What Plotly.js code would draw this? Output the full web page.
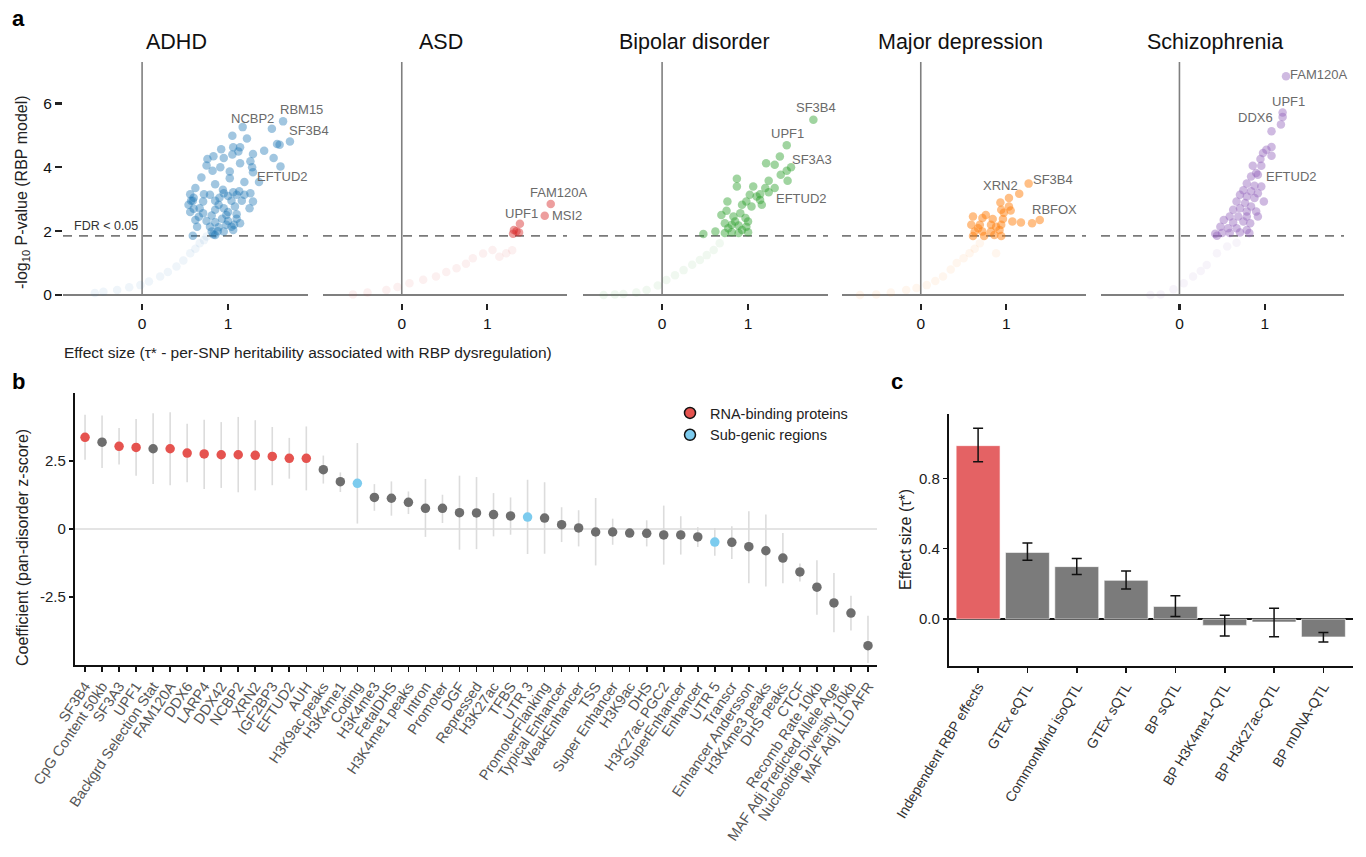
<!DOCTYPE html>
<html><head><meta charset="utf-8">
<script src="https://cdn.plot.ly/plotly-3.0.1.min.js"></script>
<style>html,body{margin:0;padding:0;background:#fff}#chart{width:1366px;height:857px}</style>
</head><body><div id="chart"></div>
<script>
// ---------- Panel a data ----------
const diseases = ['ADHD','ASD','Bipolar disorder','Major depression','Schizophrenia'];

const adhdSigX = [1.64,1.17,1.51,1.05,1.22,1.72,1.57,1.60,1.06,1.14,0.92,1.12,1.42,0.83,0.95,1.05,1.29,1.53,0.76,0.75,0.91,1.14,1.26,1.61,0.82,1.02,1.28,1.29,1.02,1.19,0.69,0.85,1.36,0.56,0.62,0.72,0.79,0.94,0.95,1.06,1.10,1.19,1.26,1.29,0.59,0.71,0.85,0.89,1.04,1.16,0.54,0.67,0.85,0.95,1.08,1.25,0.56,0.71,0.81,0.98,1.10,0.62,0.75,0.85,1.00,1.10,0.79,0.89,1.04,1.14,0.59,0.81,0.85,0.95,1.06,0.64,0.93,0.60,0.66,0.88,0.98,1.00,0.57,0.90,1.00,1.13,1.07,0.83,0.60];
const adhdSigY = [5.44,5.26,5.21,4.99,4.90,4.81,4.73,4.71,4.63,4.63,4.57,4.50,4.52,4.35,4.29,4.40,4.42,4.29,4.26,4.06,4.00,4.13,4.19,4.03,3.89,3.87,4.00,3.85,3.66,3.54,3.68,3.47,3.54,3.16,3.35,3.16,3.14,3.30,3.19,3.22,3.14,3.14,3.19,2.93,2.95,2.93,2.95,2.83,2.95,2.95,2.83,2.72,2.67,2.72,2.77,2.72,2.60,2.56,2.49,2.51,2.53,2.35,2.32,2.28,2.32,2.39,2.14,2.12,2.14,2.25,1.86,1.99,1.88,1.99,2.04,2.14,2.39,2.70,2.45,2.00,2.20,2.60,2.95,3.05,3.10,3.25,2.20,1.90,3.05];
const adhdFadeX = [-0.55,-0.45,-0.29,-0.15,-0.02,0.08,0.21,0.30,0.40,0.48,0.56,0.62,0.67,0.72,0.75];
const adhdFadeY = [0.06,0.10,0.16,0.24,0.31,0.42,0.58,0.72,0.89,1.08,1.31,1.45,1.62,1.72,1.83];
const adhdLabels = ['RBM15','NCBP2','SF3B4','EFTUD2'];
const adhdLabelIdx = [0,1,5,27];

const asdSigX = [1.74,1.67,1.38,1.31,1.37,1.30,1.34];
const asdSigY = [2.85,2.48,2.23,2.04,1.96,1.92,2.00];
const asdFadeX = [-0.57,-0.40,-0.18,-0.05,0.09,0.25,0.40,0.52,0.64,0.75,0.83,0.95,1.06,1.14,1.22,1.29];
const asdFadeY = [0.02,0.08,0.16,0.25,0.37,0.48,0.58,0.72,0.84,0.98,1.15,1.30,1.41,1.20,1.31,1.40];
const asdLabels = ['FAM120A','MSI2','UPF1'];
const asdLabelIdx = [0,1,2];

const bpSigX = [1.76,1.45,1.37,1.21,1.31,1.50,1.45,1.38,1.46,0.87,0.87,1.24,1.20,1.31,1.06,1.02,1.10,1.14,1.16,0.98,0.76,0.93,1.04,0.75,0.91,0.69,0.83,0.97,0.85,1.00,0.73,0.89,0.77,0.93,0.98,0.81,0.73,0.89,1.00,0.48,0.62,0.81,1.14,1.24];
const bpSigY = [5.49,4.69,4.34,4.13,4.08,4.00,3.89,3.77,3.58,3.64,3.40,3.58,3.35,3.35,3.40,3.14,3.09,2.98,2.83,2.93,2.93,2.83,2.77,2.64,2.56,2.51,2.46,2.41,2.30,2.30,2.25,2.18,2.09,2.04,2.14,1.97,1.94,1.94,1.97,1.91,1.99,2.20,3.16,3.22];
const bpFadeX = [-0.68,-0.55,-0.45,-0.30,-0.18,-0.05,0.05,0.15,0.25,0.35,0.44,0.52,0.60,0.67];
const bpFadeY = [0.00,0.02,0.03,0.08,0.16,0.30,0.47,0.62,0.78,0.95,1.10,1.25,1.41,1.62];
const bpLabels = ['SF3B4','UPF1','SF3A3','EFTUD2'];
const bpLabelIdx = [0,1,5,43];

const mdSigX = [1.26,1.15,1.03,1.39,1.30,0.93,1.05,0.94,0.76,0.61,0.72,0.84,0.96,1.07,1.17,0.59,0.69,0.82,0.94,0.63,0.72,0.82,0.92,0.61,0.74,0.86,0.94,0.67,0.88,0.97,1.03];
const mdSigY = [3.49,3.17,3.04,2.35,2.25,2.90,2.65,2.67,2.51,2.46,2.41,2.38,2.38,2.30,2.27,2.20,2.20,2.20,2.20,1.99,1.99,1.99,2.04,1.85,1.85,1.88,1.85,2.09,2.14,2.58,2.77];
const mdFadeX = [-0.71,-0.52,-0.35,-0.17,-0.05,0.07,0.17,0.26,0.35,0.42,0.50,0.57,0.63,0.69,0.88];
const mdFadeY = [0.00,0.02,0.08,0.16,0.22,0.31,0.44,0.58,0.80,1.00,1.15,1.31,1.45,1.62,1.31];
const mdLabels = ['SF3B4','XRN2','RBFOX'];
const mdLabelIdx = [0,2,3];

const sczSigX = [1.25,1.21,1.21,1.19,1.08,1.08,1.02,0.98,1.08,0.95,0.86,0.96,0.90,0.84,0.92,0.79,0.88,0.96,0.75,0.84,0.92,0.71,0.79,0.88,0.99,0.67,0.77,0.84,0.71,0.63,0.79,0.90,0.59,0.69,0.79,0.92,0.52,0.63,0.75,0.83,0.48,0.57,0.67,0.79,0.50,0.42,0.59,0.71,0.44,0.82];
const sczSigY = [6.85,5.72,5.58,5.34,5.13,4.64,4.55,4.45,4.36,4.26,4.05,4.05,3.82,3.71,3.77,3.49,3.42,3.40,3.28,3.25,3.19,3.14,3.09,3.04,2.93,2.93,2.88,2.77,2.72,2.67,2.62,2.62,2.46,2.46,2.46,2.46,2.35,2.27,2.30,2.25,2.14,2.09,2.09,2.04,1.94,1.92,1.94,1.96,1.86,1.94];
const sczFadeX = [-0.34,-0.22,-0.07,0.05,0.16,0.25,0.32,0.44,0.56,0.67];
const sczFadeY = [0.00,0.02,0.18,0.37,0.58,0.75,0.94,1.31,1.52,1.64];
const sczLabels = ['FAM120A','UPF1','DDX6','EFTUD2'];
const sczLabelIdx = [0,1,3,11];

const fdrThreshold = 1.85;

// ---------- Panel b data ----------
const catB = ['SF3B4','CpG Content 50kb','SF3A3','UPF1','Backgrd Selection Stat','FAM120A','DDX6','LARP4','DDX42','NCBP2','XRN2','IGF2BP3','EFTUD2','AUH','H3K9ac peaks','H3K4me1','Coding','H3K4me3','FetalDHS','H3K4me1 peaks','Intron','Promoter','DGF','Repressed','H3K27ac','TFBS','UTR 3','PromoterFlanking','Typical Enhancer','WeakEnhancer','TSS','Super Enhancer','H3K9ac','DHS','H3K27ac PGC2','SuperEnhancer','Enhancer','UTR 5','Transcr','Enhancer Andersson','H3K4me3 peaks','DHS peaks','CTCF','Recomb Rate 10kb','MAF Adj Predicted Allele Age','Nucleotide Diversity 10kb','MAF Adj LLD AFR'];
const coefB = [3.37,3.19,3.04,3.00,2.95,2.95,2.79,2.76,2.73,2.73,2.71,2.67,2.60,2.60,2.18,1.74,1.68,1.16,1.13,0.98,0.76,0.76,0.60,0.59,0.53,0.48,0.44,0.40,0.16,0.04,-0.11,-0.11,-0.15,-0.16,-0.22,-0.22,-0.29,-0.48,-0.49,-0.65,-0.80,-1.07,-1.58,-2.14,-2.72,-3.09,-4.29];
const upperB = [4.20,4.17,3.71,4.04,4.26,4.29,3.87,4.02,3.93,4.12,4.00,3.75,3.35,3.77,2.70,2.08,3.16,1.65,1.75,1.38,1.84,1.26,1.96,1.91,1.32,1.16,1.81,1.72,0.80,0.69,1.14,0.38,-0.05,0.32,0.86,0.47,0.07,0.04,0.10,0.65,0.53,-0.15,-1.27,-1.15,-1.62,-2.45,-3.19];
const lowerB = [2.55,2.24,2.37,1.96,1.65,1.61,1.72,1.47,1.51,1.35,1.42,1.61,1.85,1.42,1.67,1.36,0.20,0.67,0.49,0.55,-0.29,0.22,-0.76,-0.74,-0.27,-0.21,-0.92,-0.91,-0.48,-0.64,-1.34,-0.58,-0.25,-0.64,-1.31,-0.94,-0.66,-0.98,-1.10,-1.99,-2.11,-1.99,-1.93,-3.15,-3.80,-3.73,-4.93];
const groupB = ['RBP','Other','RBP','RBP','Other','RBP','RBP','RBP','RBP','RBP','RBP','RBP','RBP','RBP','Other','Other','Sub','Other','Other','Other','Other','Other','Other','Other','Other','Other','Sub','Other','Other','Other','Other','Other','Other','Other','Other','Other','Other','Sub','Other','Other','Other','Other','Other','Other','Other','Other','Other'];
const legendNames = {RBP:'RNA-binding proteins', Sub:'Sub-genic regions'};

// ---------- Panel c data ----------
const catC = ['Independent RBP effects','GTEx eQTL','CommonMind isoQTL','GTEx sQTL','BP sQTL','BP H3K4me1-QTL','BP H3K27ac-QTL','BP mDNA-QTL'];
const valC = [0.986,0.379,0.298,0.220,0.072,-0.036,-0.017,-0.102];
const hiC = [1.085,0.432,0.345,0.273,0.133,0.021,0.061,-0.076];
const loC = [0.895,0.334,0.254,0.171,0.015,-0.097,-0.100,-0.131];

// ---------- styling ----------
const W = 1366, H = 857;
const FONT = 'Liberation Sans, Arial, Helvetica, sans-serif';
const px = v => v / W;
const py = v => 1 - v / H;

const panelA = [
  {sx: adhdSigX, sy: adhdSigY, fx: adhdFadeX, fy: adhdFadeY, lab: adhdLabels, li: adhdLabelIdx, color: '#1f77b4', op: 0.42,
   off: [[18,-12],[10,-9],[19,-11],[30,4]], dom: [63,308], titleX: 176},
  {sx: asdSigX, sy: asdSigY, fx: asdFadeX, fy: asdFadeY, lab: asdLabels, li: asdLabelIdx, color: '#d62728', op: 0.45,
   off: [[8,-12],[22,0],[2,-10]], dom: [323,567], titleX: 441},
  {sx: bpSigX, sy: bpSigY, fx: bpFadeX, fy: bpFadeY, lab: bpLabels, li: bpLabelIdx, color: '#2ca02c', op: 0.45,
   off: [[3,-12],[1,-12],[21,-8],[33,6]], dom: [583,828], titleX: 694},
  {sx: mdSigX, sy: mdSigY, fx: mdFadeX, fy: mdFadeY, lab: mdLabels, li: mdLabelIdx, color: '#ff7f0e', op: 0.5,
   off: [[24,-4],[-8,-12],[15,-11]], dom: [842,1086], titleX: 960},
  {sx: sczSigX, sy: sczSigY, fx: sczFadeX, fy: sczFadeY, lab: sczLabels, li: sczLabelIdx, color: '#9467bd', op: 0.45,
   off: [[32,-2],[6,-11],[-25,-7],[30,11]], dom: [1101,1344], titleX: 1215}
];

const traces = [];
const annotations = [];
const shapes = [];
const layout = {
  width: W, height: H, margin: {l:0,r:0,t:0,b:0},
  paper_bgcolor: '#fff', plot_bgcolor: 'rgba(0,0,0,0)',
  font: {family: FONT, color: '#222', size: 13},
  showlegend: true,
  legend: {x: px(670), y: py(397), xanchor: 'left', yanchor: 'top', bgcolor: 'rgba(0,0,0,0)',
           font: {size: 14.5, color: '#222', family: FONT}, itemwidth: 30, tracegroupgap: 0},
  annotations, shapes
};

const aYdom = [py(303), py(62)];
panelA.forEach((p, i) => {
  const n = i + 1;
  const xa = n === 1 ? 'x' : 'x' + n;
  const ya = n === 1 ? 'y' : 'y' + n;
  traces.push({type: 'scatter', mode: 'markers', x: p.fx, y: p.fy, xaxis: xa, yaxis: ya,
    marker: {size: 8.5, color: p.color, opacity: 0.07}, hoverinfo: 'skip', showlegend: false});
  traces.push({type: 'scatter', mode: 'markers', x: p.sx, y: p.sy, xaxis: xa, yaxis: ya,
    marker: {size: 8.5, color: p.color, opacity: p.op}, showlegend: false});
  layout['xaxis' + (n === 1 ? '' : n)] = {
    domain: [px(p.dom[0]), px(p.dom[1])], anchor: ya, range: [-0.92, 1.93],
    tickvals: [0, 1], ticktext: ['0', '1'], ticks: 'outside', ticklen: 6, tickwidth: 2.2, tickcolor: '#222',
    showline: false, zeroline: false, showgrid: false, tickfont: {size: 15.5, color: '#111'}
  };
  const yax = {
    domain: aYdom, anchor: xa, range: [-0.25, 7.3], showgrid: false, showline: false,
    zeroline: true, zerolinecolor: '#7f7f7f', zerolinewidth: 1.6
  };
  if (n === 1) {
    Object.assign(yax, {tickvals: [0,2,4,6], ticktext: ['0','2','4','6'], ticks: 'outside', ticklen: 7,
      tickwidth: 2.2, tickcolor: '#222', tickfont: {size: 15.5, color: '#111'}});
  } else {
    Object.assign(yax, {showticklabels: false, ticks: ''});
  }
  layout['yaxis' + (n === 1 ? '' : n)] = yax;
  shapes.push({type: 'line', xref: xa, yref: ya, x0: 0, x1: 0, y0: 0, y1: 7.3,
    line: {color: '#7f7f7f', width: 1.6}, layer: 'below'});
  shapes.push({type: 'line', xref: xa + ' domain', yref: ya, x0: 0, x1: 1, y0: fdrThreshold, y1: fdrThreshold,
    line: {color: '#7a7a7a', width: 1.8, dash: '9px,7px'}, layer: 'below'});
  p.lab.forEach((g, k) => {
    const idx = p.li[k];
    annotations.push({xref: xa, yref: ya, x: p.sx[idx], y: p.sy[idx], text: g, showarrow: false,
      xanchor: 'center', yanchor: 'middle', xshift: p.off[k][0], yshift: -p.off[k][1],
      font: {size: 13, color: '#6a6a6a', family: FONT}});
  });
  annotations.push({xref: 'paper', yref: 'paper', x: px(p.titleX), y: py(42), text: diseases[i],
    showarrow: false, xanchor: 'center', yanchor: 'middle', font: {size: 21.5, color: '#111', family: FONT}});
});
annotations.push({xref: 'x', yref: 'y', x: -0.81, y: fdrThreshold, yshift: 10, text: 'FDR < 0.05', showarrow: false,
  xanchor: 'left', yanchor: 'middle', font: {size: 12.5, color: '#333', family: FONT}});
annotations.push({xref: 'paper', yref: 'paper', x: px(22), y: py(192), text: '-log<sub>10</sub> P-value (RBP model)',
  textangle: -90, showarrow: false, xanchor: 'center', yanchor: 'middle', font: {size: 16, color: '#222', family: FONT}});
annotations.push({xref: 'paper', yref: 'paper', x: px(308), y: py(352),
  text: 'Effect size (τ* - per-SNP heritability associated with RBP dysregulation)',
  showarrow: false, xanchor: 'center', yanchor: 'middle', font: {size: 15.5, color: '#222', family: FONT}});

// ---------- Panel b ----------
const colB = {RBP: '#e5534f', Other: '#6e6e6e', Sub: '#7ccbee'};
['Other', 'RBP', 'Sub'].forEach(g => {
  const idx = groupB.map((v, i) => v === g ? i : -1).filter(i => i >= 0);
  traces.push({type: 'scatter', mode: 'markers', xaxis: 'x6', yaxis: 'y6',
    x: idx.map(i => catB[i]), y: idx.map(i => coefB[i]),
    error_y: {type: 'data', symmetric: false,
      array: idx.map(i => upperB[i] - coefB[i]), arrayminus: idx.map(i => coefB[i] - lowerB[i]),
      color: '#dcdcdc', thickness: 1.6, width: 0},
    marker: {size: 9.5, color: colB[g]}, showlegend: false});
});
['RBP', 'Sub'].forEach(g => {
  traces.push({type: 'scatter', mode: 'markers', xaxis: 'x6', yaxis: 'y6', x: [null], y: [null],
    name: legendNames[g], marker: {size: 11, color: colB[g], line: {color: '#111', width: 1.5}}, showlegend: true});
});
layout.xaxis6 = {
  domain: [px(75), px(877)], anchor: 'y6', type: 'category', categoryorder: 'array', categoryarray: catB,
  range: [-0.59, 46.53], showline: true, linecolor: '#111', linewidth: 2.2, ticks: 'outside', ticklen: 5,
  tickwidth: 1.6, tickcolor: '#111', tickangle: -56, tickfont: {size: 14.5, color: '#555'}, showgrid: false, zeroline: false
};
layout.yaxis6 = {
  domain: [py(665), py(393)], anchor: 'x6', range: [-5, 5], tickvals: [-2.5, 0, 2.5], ticktext: ['-2.5', '0', '2.5'],
  showline: true, linecolor: '#111', linewidth: 2.2, ticks: 'outside', ticklen: 4, tickwidth: 1.5, tickcolor: '#111',
  zeroline: true, zerolinecolor: '#e4e4e4', zerolinewidth: 1.2, showgrid: false, tickfont: {size: 15, color: '#222'}
};
annotations.push({xref: 'paper', yref: 'paper', x: px(22), y: py(548), text: 'Coefficient (pan-disorder z-score)',
  textangle: -90, showarrow: false, xanchor: 'center', yanchor: 'middle', font: {size: 16, color: '#222', family: FONT}});

// ---------- Panel c ----------
traces.push({type: 'bar', xaxis: 'x7', yaxis: 'y7', x: catC, y: valC, width: 0.89,
  marker: {color: catC.map((c, i) => i === 0 ? '#e46264' : '#7b7b7b'), line: {color: 'rgba(255,255,255,0.6)', width: 1}},
  error_y: {type: 'data', symmetric: false, array: hiC.map((v, i) => v - valC[i]), arrayminus: loC.map((v, i) => valC[i] - v),
    color: '#111', thickness: 1.5, width: 5}, showlegend: false});
layout.xaxis7 = {
  domain: [px(949), px(1353)], anchor: 'y7', type: 'category', categoryorder: 'array', categoryarray: catC,
  range: [-0.59, 7.6], showline: true, linecolor: '#111', linewidth: 2.2, ticks: 'outside', ticklen: 5,
  tickwidth: 1.6, tickcolor: '#111', tickangle: -59, tickfont: {size: 14, color: '#333'}, showgrid: false, zeroline: false
};
layout.yaxis7 = {
  domain: [py(666), py(414)], anchor: 'x7', range: [-0.267, 1.166], tickvals: [0, 0.4, 0.8], ticktext: ['0.0', '0.4', '0.8'],
  showline: true, linecolor: '#111', linewidth: 2.2, ticks: 'outside', ticklen: 4, tickwidth: 1.5, tickcolor: '#111',
  zeroline: true, zerolinecolor: '#111', zerolinewidth: 1.5, showgrid: false, tickfont: {size: 15, color: '#222'}
};
annotations.push({xref: 'paper', yref: 'paper', x: px(905), y: py(540), text: 'Effect size (τ*)',
  textangle: -90, showarrow: false, xanchor: 'center', yanchor: 'middle', font: {size: 16, color: '#222', family: FONT}});

[['a', 18, 18], ['b', 18, 381], ['c', 897, 381]].forEach(([t, x, y]) => {
  annotations.push({xref: 'paper', yref: 'paper', x: px(x), y: py(y), text: '<b>' + t + '</b>', showarrow: false,
    xanchor: 'center', yanchor: 'middle', font: {size: 22, color: '#000', family: FONT}});
});

Plotly.newPlot('chart', traces, layout, {displayModeBar: false, staticPlot: true});
</script>
</body></html>
